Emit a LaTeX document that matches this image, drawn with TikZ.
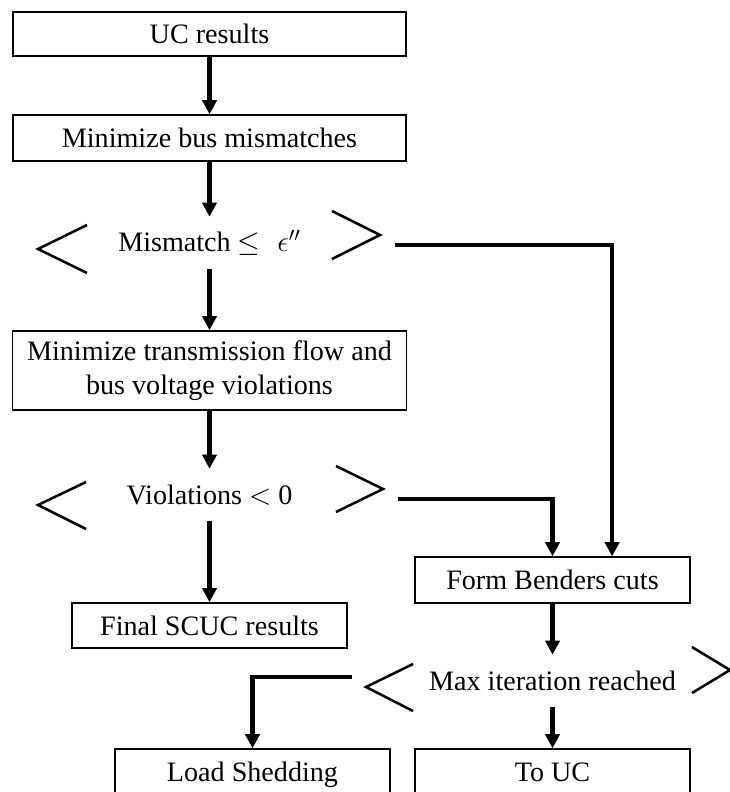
\documentclass[tikz,border=0pt]{standalone}
\usepackage{fontspec}
\setmainfont{Liberation Serif}
\usetikzlibrary{arrows.meta}

\tikzset{
  box/.style={draw, line width=1pt, inner sep=0pt, align=center},
  cond/.style={inner sep=0pt, minimum height=1.3cm},
  flow/.style={line width=2.9pt, -{Triangle[length=10pt, width=10pt]}},
  brk/.style={line width=1.8pt},
}

\begin{document}
\begin{tikzpicture}[x=0.025cm, y=-0.025cm, font=\fontsize{20}{24}\selectfont]
    \useasboundingbox (0,0) rectangle (730,792);

    % process boxes
    \node[box, minimum width=9.83cm, minimum height=1.1cm] (uc) at (209.5, 34) {UC results};
    \node[box, minimum width=9.83cm, minimum height=1.15cm] (minbus) at (209.5, 138) {Minimize bus mismatches};
    \node[box, minimum width=9.85cm, minimum height=1.98cm] (mintr) at (209.5, 370.5)
      {Minimize transmission flow and\\ bus voltage violations};
    \node[box, minimum width=6.88cm, minimum height=1.13cm] (final) at (209.5, 625.5) {Final SCUC results};
    \node[box, minimum width=6.88cm, minimum height=1.15cm] (benders) at (552.5, 580) {Form Benders cuts};
    \node[box, minimum width=6.88cm, minimum height=1.45cm, text height=0.7em, text depth=0.25em] (shed) at (252.5, 778) {Load Shedding};
    \node[box, minimum width=6.88cm, minimum height=1.45cm, text height=0.7em, text depth=0.25em] (touc) at (552.5, 778) {To UC};

    % decisions
    \node[cond] (mism) at (209.5, 243) {Mismatch $\leq$\hspace{0.6em}$\epsilon''$};
    \draw[brk] (87, 225) -- (38, 249) -- (87, 273);
    \draw[brk] (332, 211) -- (380, 235) -- (332, 259);
    \node[cond] (viol) at (209.5, 495) {Violations $<$ 0};
    \draw[brk] (86, 482) -- (38, 505) -- (86, 529);
    \draw[brk] (336, 466) -- (383, 489) -- (336, 512);
    \node[cond] (maxit) at (552.5, 681) {Max iteration reached};
    \draw[brk] (413, 664) -- (366, 687) -- (413, 711);
    \draw[brk] (692, 647) -- (730, 670) -- (692, 693);

    \coordinate (mismR) at (395, 245);
    \coordinate (violR) at (398, 499);
    \coordinate (maxL) at (352, 677);

    % connectors
    \draw[flow] (uc) -- (minbus);
    \draw[flow] (minbus) -- (mism);
    \draw[flow] (mism) -- (mintr);
    \draw[flow] (mintr) -- (viol);
    \draw[flow] (viol) -- (final);
    \draw[flow] (mismR) -| ([xshift=1.49cm]benders.north);
    \draw[flow] (violR) -| (benders.north);
    \draw[flow] (benders) -- (maxit);
    \draw[flow] (maxit) -- (touc);
    \draw[flow] (maxL) -| (shed.north);
\end{tikzpicture}
\end{document}
